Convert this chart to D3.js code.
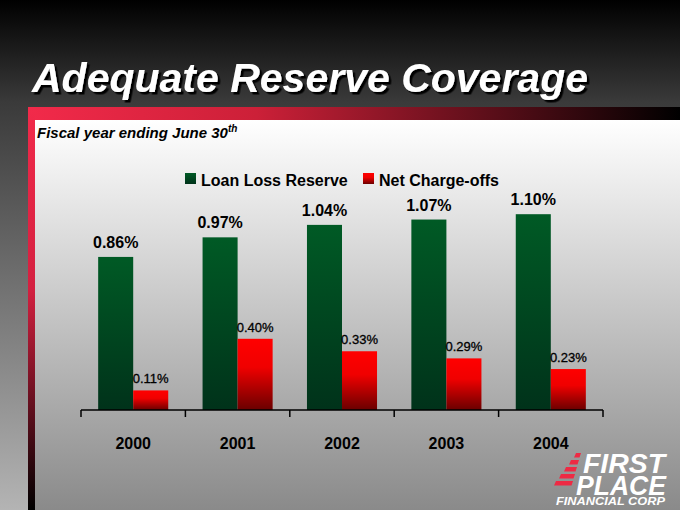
<!DOCTYPE html>
<html><head><meta charset="utf-8">
<script src="https://cdn.jsdelivr.net/npm/d3@7/dist/d3.min.js"></script>
<style>html,body{margin:0;padding:0;background:#000;}svg{display:block;}</style>
</head><body>
<script>
const years = ["2000", "2001", "2002", "2003", "2004"];
const loanLossReserve = [0.86, 0.97, 1.04, 1.07, 1.10];
const netChargeOffs = [0.11, 0.40, 0.33, 0.29, 0.23];
const seriesNames = ["Loan Loss Reserve", "Net Charge-offs"];

const W = 680, H = 510;
const FONT = "'Liberation Sans', Arial, Helvetica, sans-serif";
const svg = d3.select("body").append("svg").attr("width", W).attr("height", H);
const defs = svg.append("defs");

function lin(id, x1, y1, x2, y2, stops) {
  const g = defs.append("linearGradient").attr("id", id)
    .attr("x1", x1).attr("y1", y1).attr("x2", x2).attr("y2", y2);
  stops.forEach(s => g.append("stop").attr("offset", s[0]).attr("stop-color", s[1]));
}
lin("bgGrad", 0, 0, 0, 1, [[0, "#000"], [0.2, "#3a3a3a"], [1, "#b4b4b4"]]);
lin("redH", 0, 0, 1, 0, [[0, "#f22a4a"], [0.35, "#cc2038"], [1, "#000"]]);
lin("redV", 0, 0, 0, 1, [[0, "#f22a4a"], [0.45, "#d42040"], [1, "#000"]]);
lin("panelGrad", 0, 0, 0, 1, [[0, "#ffffff"], [1, "#8a8a8a"]]);
lin("greenGrad", 0, 0, 0, 1, [[0, "#005a25"], [1, "#00321a"]]);
lin("redGrad", 0, 0, 0, 1, [[0, "#ff0000"], [0.4, "#f00000"], [1, "#6a0000"]]);
const shadow = defs.append("filter").attr("id", "shadow")
  .attr("x", "-5%").attr("y", "-20%").attr("width", "115%").attr("height", "150%");
shadow.append("feDropShadow").attr("dx", 2.5).attr("dy", 2.5).attr("stdDeviation", 0.4)
  .attr("flood-color", "#000").attr("flood-opacity", 1);

// background and frame
svg.append("rect").attr("width", W).attr("height", H).attr("fill", "url(#bgGrad)");
svg.append("rect").attr("x", 28).attr("y", 107).attr("width", W - 28).attr("height", 13).attr("fill", "url(#redH)");
svg.append("rect").attr("x", 28).attr("y", 107).attr("width", 7).attr("height", H - 107).attr("fill", "url(#redV)");
svg.append("rect").attr("x", 35).attr("y", 120).attr("width", W - 35).attr("height", H - 120).attr("fill", "url(#panelGrad)");

// title
svg.append("text").attr("x", 32).attr("y", 92).text("Adequate Reserve Coverage")
  .attr("font-family", FONT).attr("font-weight", "bold").attr("font-style", "italic")
  .attr("font-size", 41).attr("fill", "#fff").attr("filter", "url(#shadow)");

// subtitle
const sub = svg.append("text").attr("x", 37).attr("y", 138)
  .attr("font-family", FONT).attr("font-weight", "bold").attr("font-style", "italic")
  .attr("font-size", 15).attr("fill", "#000");
sub.append("tspan").text("Fiscal year ending June 30");
sub.append("tspan").text("th").attr("font-size", 10).attr("dy", -6);

// scales
const baseY = 410;
const x = d3.scaleBand().domain(years).range([81, 603]).paddingInner(0).paddingOuter(0);
const xs = d3.scaleBand().domain(seriesNames).range([0, x.bandwidth()]).paddingInner(0).paddingOuter(0.49);
const y = d3.scaleLinear().domain([0, 1.2]).range([baseY, baseY - 1.2 * 178]);

const data = years.map((yr, i) => ({ year: yr, llr: loanLossReserve[i], nco: netChargeOffs[i] }));

const g = svg.append("g");
g.selectAll(".llr").data(data).join("rect")
  .attr("x", d => x(d.year) + xs(seriesNames[0]))
  .attr("y", d => y(d.llr))
  .attr("width", xs.bandwidth())
  .attr("height", d => baseY - y(d.llr))
  .attr("fill", "url(#greenGrad)");
g.selectAll(".nco").data(data).join("rect")
  .attr("x", d => x(d.year) + xs(seriesNames[1]))
  .attr("y", d => y(d.nco))
  .attr("width", xs.bandwidth())
  .attr("height", d => baseY - y(d.nco))
  .attr("fill", "url(#redGrad)");

// value labels
g.selectAll(".llrl").data(data).join("text")
  .attr("x", d => x(d.year) + xs(seriesNames[0]) + xs.bandwidth() / 2)
  .attr("y", d => y(d.llr) - 9)
  .attr("text-anchor", "middle")
  .attr("font-family", FONT).attr("font-weight", "bold").attr("font-size", 16).attr("fill", "#000")
  .text(d => d.llr.toFixed(2) + "%");
g.selectAll(".ncol").data(data).join("text")
  .attr("x", d => x(d.year) + xs(seriesNames[1]) + xs.bandwidth() / 2)
  .attr("y", d => y(d.nco) - 7)
  .attr("text-anchor", "middle")
  .attr("font-family", FONT).attr("font-size", 13).attr("fill", "#000")
  .attr("stroke", "#000").attr("stroke-width", 0.3)
  .text(d => d.nco.toFixed(2) + "%");

// axis
const axis = svg.append("g").attr("transform", `translate(0,${baseY})`)
  .call(d3.axisBottom(x).tickSize(0).tickPadding(28));
axis.select(".domain").remove();
axis.selectAll("text").attr("font-family", FONT).attr("font-weight", "bold")
  .attr("font-size", 16).attr("fill", "#000");
svg.append("line").attr("x1", x.range()[0]).attr("x2", x.range()[1])
  .attr("y1", baseY).attr("y2", baseY).attr("stroke", "#000").attr("stroke-width", 1.5);
const edges = years.map(yr => x(yr)).concat([x.range()[1]]);
svg.selectAll(".edge").data(edges).join("line")
  .attr("x1", d => d).attr("x2", d => d).attr("y1", baseY).attr("y2", baseY + 7)
  .attr("stroke", "#000").attr("stroke-width", 1.5);

// legend
const legendX = [185, 363];
const lg = svg.append("g");
seriesNames.forEach((name, i) => {
  lg.append("rect").attr("x", legendX[i]).attr("y", 173).attr("width", 11).attr("height", 11)
    .attr("fill", i === 0 ? "url(#greenGrad)" : "url(#redGrad)");
  lg.append("text").attr("x", legendX[i] + 16).attr("y", 186).text(name)
    .attr("font-family", FONT).attr("font-weight", "bold").attr("font-size", 16).attr("fill", "#000");
});

// logo
const logo = svg.append("g");
const stripes = [[453, 574, 581], [460, 569, 579], [467, 564, 577], [474, 559, 575], [481, 554, 573]];
stripes.forEach(s => {
  const yy = s[0], h = 4.5;
  logo.append("path")
    .attr("d", `M${s[1]},${yy + h} L${s[1] + 2},${yy} L${s[2]},${yy} L${s[2] - 1.5},${yy + h} Z`)
    .attr("fill", "#ee2a44");
});
logo.append("text").attr("x", 583).attr("y", 473).text("FIRST")
  .attr("font-family", FONT).attr("font-weight", "bold").attr("font-style", "italic")
  .attr("font-size", 27).attr("fill", "#fff").attr("textLength", 82).attr("lengthAdjust", "spacingAndGlyphs");
logo.append("text").attr("x", 576).attr("y", 495).text("PLACE")
  .attr("font-family", FONT).attr("font-weight", "bold").attr("font-style", "italic")
  .attr("font-size", 27).attr("fill", "#fff").attr("textLength", 90).attr("lengthAdjust", "spacingAndGlyphs");
logo.append("text").attr("x", 556).attr("y", 505).text("FINANCIAL CORP")
  .attr("font-family", FONT).attr("font-weight", "bold").attr("font-style", "italic")
  .attr("font-size", 11).attr("fill", "#fff").attr("textLength", 109).attr("lengthAdjust", "spacingAndGlyphs");
</script>
</body></html>
